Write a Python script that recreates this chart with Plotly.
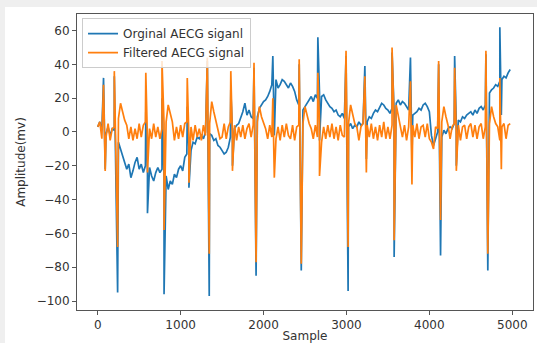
import plotly.graph_objects as go

# ---- baseline grid (sample index every 25 samples) ----
base_sample = list(range(0, 5000, 25))

orig_base = [
    3, 6, 1, 4, -1, 3, -2, 2, 1, -3,
    -6, -10, -13, -17, -22, -19, -27, -23, -18, -15,
    -22, -19, -24, -20, -23, -21, -26, -29, -24, -21,
    -24, -22, -27, -26, -34, -29, -31, -25, -27, -22,
    -20, -23, -15, -13, -10, -11, -6, -7, -3, -4,
    -2, -4, 0, -3, -1, -2, -5, -4, -8, -9,
    -11, -13, -12, -9, -3, 0, 2, 4, 5, 8,
    12, 17, 10, 13, 9, 8, 11, 9, 14, 16,
    18, 19, 21, 24, 28, 29, 31, 26, 28, 31,
    30, 28, 26, 29, 27, 24, 19, 16, 14, 13,
    15, 17, 19, 21, 18, 22, 20, 23, 21, 22,
    19, 17, 15, 14, 12, 13, 10, 9, 11, 8,
    6, 3, 5, 2, 4, 3, 6, 4, 5, 7,
    6, 9, 8, 11, 13, 12, 15, 17, 16, 14,
    13, 11, 14, 12, 17, 19, 16, 18, 17, 15,
    13, 12, 10, 11, 12, 14, 13, 16, 17, 15,
    12, -2, -8, -4, 0, -2, -3, 1, -1, 2,
    3, 2, 5, 4, 7, 6, 9, 8, 10, 11,
    12, 10, 13, 11, 14, 15, 13, 16, 19, 23,
    25, 26, 28, 27, 30, 31, 33, 32, 35, 37,
]

filt_base = [
    3, 6, -4, 2, -3, 5, -5, 2, 3, -3,
    8, 17, 12, 7, 4, -4, 3, -5, 2, -4,
    5, -3, 4, 6, -5, 2, -4, 5, -3, 3,
    -4, 2, 5, 6, 16, 11, 6, -5, 3, -4,
    4, -3, 5, 6, -4, 3, -5, 4, -3, 2,
    -5, 4, -2, 2, 5, 18, 12, 6, 2, -4,
    -3, 5, -4, 3, 6, -4, 4, -5, 3, -3,
    4, -4, 2, 5, -3, 4, -5, 6, 15, 9,
    5, 2, -4, 4, -3, 5, -4, 3, -5, 4,
    -3, 5, -2, -4, 4, -5, 3, 4, 6, 5,
    15, 10, 5, 2, -4, 4, -3, 5, -6, 3,
    -4, 4, -3, 5, -4, 3, -5, 4, -2, -3,
    4, 5, 16, 10, 5, 3, -5, 3, 5, -4,
    4, -3, 5, -4, 3, -5, 4, -3, 6, -4,
    3, -4, 4, 5, 16, 10, 4, -3, 4, -5,
    3, -4, 4, -3, 5, -4, 3, 4, -3, 5,
    -4, -6, -10, 3, 2, -3, 6, 15, 9, 4,
    -4, 3, 5, -3, 4, -5, 3, 4, -4, 3,
    5, -3, 4, -4, 3, 5, -4, 3, 5, 5,
    15, 9, 5, 3, -5, 3, 5, -4, 4, 5,
]

# ---- QRS complexes (peak up, then trough) ----
up_sample   = [70, 200, 580, 775, 1080, 1322, 1605, 1885, 2112, 2430,
               2655, 2995, 3222, 3550, 3772, 4112, 4305, 4682, 4850]
orig_up     = [32, 33, 12, 20, 15, 42, 25, 38, 45, 40,
               56, 45, 39, 47, 44, 40, 45, 46, 62]
filt_up     = [28, 36, 35, 42, 32, 44, 36, 41, 20, 43,
               35, 48, 33, 50, 30, 42, 38, 48, 32]
down_sample = [90, 240, 600, 800, 1100, 1345, 1625, 1910, 2130, 2455,
               2675, 3020, 3240, 3575, 3790, 4135, 4325, 4705, 4868]
orig_down   = [-22, -95, -48, -96, -33, -97, -20, -85, -2, -82,
               -5, -94, -16, -74, -15, -73, -20, -82, 10]
filt_down   = [-23, -68, -24, -58, -30, -72, -23, -77, -27, -78,
               -26, -68, -24, -64, -31, -52, -23, -72, -22]


def build(base_v, peak_v, trough_v):
    pts = []
    for s, v in zip(base_sample, base_v):
        if not any(u < s < d for u, d in zip(up_sample, down_sample)):
            pts.append((s, 0, v))
    pts += [(s, 1, v) for s, v in zip(up_sample, peak_v)]
    pts += [(s, 2, v) for s, v in zip(down_sample, trough_v)]
    pts.sort()
    return [p[0] for p in pts], [p[2] for p in pts]


ox, oy = build(orig_base, orig_up, orig_down)
fx, fy = build(filt_base, filt_up, filt_down)

fig = go.Figure()
fig.add_trace(go.Scatter(x=ox, y=oy, mode="lines", name="Orginal AECG siganl",
                         line=dict(color="#1f77b4", width=1.7)))
fig.add_trace(go.Scatter(x=fx, y=fy, mode="lines", name="Filtered AECG signal",
                         line=dict(color="#ff7f0e", width=1.7)))

font = dict(family="DejaVu Sans", size=12, color="#333333")
axis_common = dict(showgrid=False, zeroline=False, showline=True, mirror=True,
                   linecolor="#555555", linewidth=1, ticks="outside", ticklen=4,
                   tickcolor="#555555", tickfont=font, automargin=False)

fig.update_xaxes(range=[-250, 5250], tickvals=[0, 1000, 2000, 3000, 4000, 5000],
                 title=dict(text="Sample", font=font, standoff=3), **axis_common)
fig.update_yaxes(range=[-105.3, 69.8], tickvals=[-100, -80, -60, -40, -20, 0, 20, 40, 60],
                 title=dict(text="Amplitude(mv)", font=font, standoff=8), **axis_common)

fig.update_layout(
    width=537, height=343,
    margin=dict(l=77, r=4, t=14, b=33),
    paper_bgcolor="white", plot_bgcolor="white",
    font=font,
    showlegend=True,
    legend=dict(x=0.011, y=0.986, xanchor="left", yanchor="top",
                bgcolor="rgba(255,255,255,0.8)", bordercolor="#cccccc", borderwidth=1,
                font=font, tracegroupgap=0),
    shapes=[
        dict(type="rect", xref="paper", yref="paper", x0=-0.1689, x1=-0.1579,
             y0=-0.1115, y1=1.0473, fillcolor="#efefef", line_width=0, layer="above"),
        dict(type="rect", xref="paper", yref="paper", x0=-0.1689, x1=1.0088,
             y0=1.0236, y1=1.0473, fillcolor="#efefef", line_width=0, layer="above"),
    ],
)

fig.write_html("out.html", config={"displayModeBar": False},
               post_script="document.body.style.margin='0';document.body.style.overflow='hidden';")
